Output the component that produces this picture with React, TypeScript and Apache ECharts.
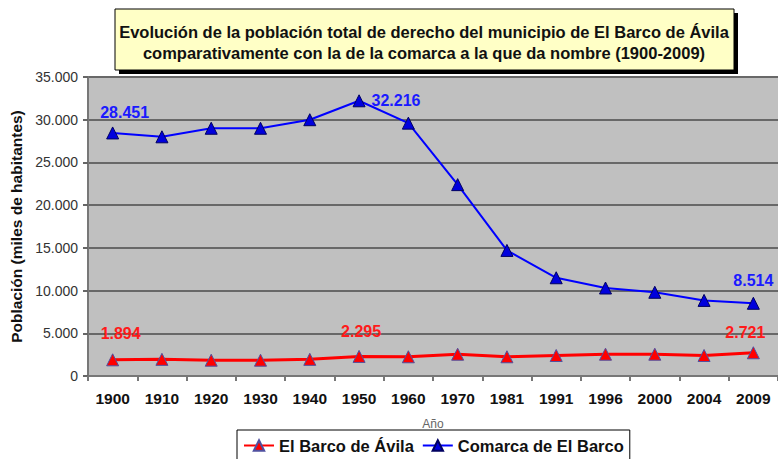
import React, { useEffect, useRef } from "react";
import * as echarts from "echarts";

const years = ["1900", "1910", "1920", "1930", "1940", "1950", "1960", "1970", "1981", "1991", "1996", "2000", "2004", "2009"];
const barco = [1894, 1950, 1850, 1850, 1950, 2295, 2250, 2550, 2250, 2400, 2550, 2550, 2400, 2721];
const comarca = [28451, 28000, 29000, 29000, 30000, 32216, 29600, 22400, 14700, 11500, 10300, 9800, 8850, 8514];
const labelledIdx = [0, 5, 13];
const titleLines = [
  "Evolución de la población total de derecho del municipio de El Barco de Ávila",
  "comparativamente con la de la comarca a la que da nombre (1900-2009)",
];
const seriesNames = ["El Barco de Ávila", "Comarca de El Barco"];
const yAxisName = "Población (miles de habitantes)";
const xAxisName = "Año";

const FONT = "'Liberation Sans', Arial, sans-serif";
const fmt = (v: number) => String(v).replace(/\B(?=(\d{3})+(?!\d))/g, ".");

export default function App() {
  const ref = useRef<HTMLDivElement>(null);
  useEffect(() => {
    if (!ref.current) return;
    const chart = echarts.init(ref.current, null, { renderer: "svg" });
    const mkData = (vals: number[], color: string, positions: any[]) =>
      vals.map((v, i) => {
        const k = labelledIdx.indexOf(i);
        if (k < 0) return v;
        return {
          value: v,
          label: {
            show: true,
            formatter: fmt(v),
            color,
            fontWeight: "bold",
            fontSize: 16,
            fontFamily: FONT,
            ...positions[k],
          },
        };
      });
    chart.setOption({
      animation: false,
      backgroundColor: "#ffffff",
      textStyle: { fontFamily: FONT },
      grid: { left: 86, right: 0, top: 77, bottom: 83, show: true, backgroundColor: "#c0c0c0", borderWidth: 0 },
      graphic: [
        { type: "rect", shape: { x: 119, y: 13, width: 619, height: 61 }, style: { fill: "#000" }, z: 100 },
        { type: "rect", shape: { x: 115, y: 9, width: 619, height: 61 }, style: { fill: "#ffffc6", stroke: "#000", lineWidth: 1 }, z: 101 },
        {
          type: "text",
          x: 424,
          y: 32,
          z: 102,
          style: { text: titleLines[0], textAlign: "center", textVerticalAlign: "middle", font: `bold 16.5px ${FONT}`, fill: "#111" },
        },
        {
          type: "text",
          x: 424,
          y: 53,
          z: 102,
          style: { text: titleLines[1], textAlign: "center", textVerticalAlign: "middle", font: `bold 16.5px ${FONT}`, fill: "#111" },
        },
      ],
      legend: {
        left: 237,
        top: 430,
        itemGap: 8,
        itemWidth: 30,
        itemHeight: 13,
        padding: [7, 6, 8, 6],
        borderColor: "#000",
        borderWidth: 1,
        backgroundColor: "#fff",
        textStyle: { fontWeight: "bold", fontSize: 16.5, color: "#111", fontFamily: FONT },
        data: seriesNames,
      },
      xAxis: {
        type: "category",
        data: years,
        boundaryGap: true,
        name: xAxisName,
        nameLocation: "middle",
        nameGap: 42,
        nameTextStyle: { fontSize: 12, color: "#666", fontFamily: FONT },
        axisLine: { lineStyle: { color: "#777", width: 2 } },
        axisTick: { show: true, length: 5, lineStyle: { color: "#777", width: 2 } },
        axisLabel: { margin: 14, fontSize: 15.5, fontWeight: "bold", color: "#111", fontFamily: FONT },
      },
      yAxis: {
        type: "value",
        min: 0,
        max: 35000,
        interval: 5000,
        name: yAxisName,
        nameLocation: "middle",
        nameGap: 64,
        nameTextStyle: { fontSize: 15.5, fontWeight: "bold", color: "#111", fontFamily: FONT },
        axisLine: { show: true, lineStyle: { color: "#777", width: 2 } },
        axisTick: { show: true, length: 5, lineStyle: { color: "#666", width: 2 } },
        axisLabel: { margin: 10, fontSize: 14, color: "#333", fontFamily: FONT, formatter: (v: number) => fmt(v) },
        splitLine: { lineStyle: { color: "#686868", width: 2 } },
      },
      series: [
        {
          name: seriesNames[0],
          type: "line",
          data: mkData(barco, "#ff1a1a", [
            { position: "top", distance: 12, offset: [8, 0] },
            { position: "top", distance: 10, offset: [2, 0] },
            { position: "top", distance: 6, offset: [-8, 0] },
          ]),
          symbol: "triangle",
          symbolSize: 12,
          lineStyle: { color: "#ff0000", width: 3 },
          itemStyle: { color: "#ff0000", borderColor: "#5050a0", borderWidth: 1 },
        },
        {
          name: seriesNames[1],
          type: "line",
          data: mkData(comarca, "#1a1aff", [
            { position: "top", distance: 6, offset: [12, 0] },
            { position: "right", distance: 6, offset: [0, 0] },
            { position: "top", distance: 8, offset: [0, 0] },
          ]),
          symbol: "triangle",
          symbolSize: 12,
          lineStyle: { color: "#0000ff", width: 2 },
          itemStyle: { color: "#0000dd", borderColor: "#000060", borderWidth: 1 },
        },
      ],
    });
    return () => chart.dispose();
  }, []);
  return <div ref={ref} style={{ width: 778, height: 459, position: "absolute", left: 0, top: 0 }} />;
}
